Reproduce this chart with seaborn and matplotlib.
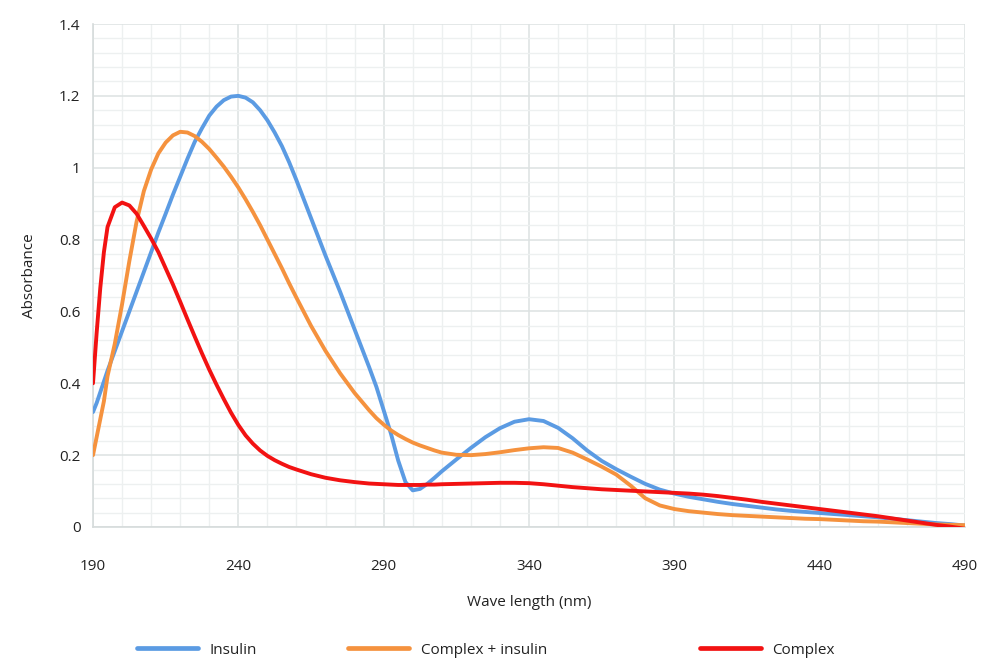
import numpy as np
import pandas as pd
import matplotlib
matplotlib.use("Agg")
import matplotlib.pyplot as plt
import seaborn as sns
from matplotlib.ticker import MultipleLocator
from matplotlib.lines import Line2D

wavelength = [190, 191.25, 192.5, 193.75, 195, 197.5, 200, 202.5, 205, 207.5,
              210, 212.5, 215, 217.5, 220, 222.5, 225, 227.5, 230, 232.5,
              235, 237.5, 240, 242.5, 245, 247.5, 250, 252.5, 255, 257.5,
              260, 265, 270, 275, 280, 285, 287.5, 290, 292.5, 295,
              297.5, 300, 302.5, 305, 307.5, 310, 315, 320, 325, 330,
              335, 340, 345, 350, 355, 360, 365, 370, 375, 380,
              385, 390, 395, 400, 405, 410, 415, 420, 425, 430,
              435, 440, 445, 450, 455, 460, 465, 470, 475, 480,
              485, 490]

insulin = [0.32, 0.345, 0.375, 0.405, 0.435, 0.49, 0.545, 0.60, 0.655, 0.71,
           0.765, 0.82, 0.872, 0.925, 0.975, 1.025, 1.072, 1.11, 1.145, 1.17,
           1.188, 1.198, 1.20, 1.195, 1.182, 1.16, 1.132, 1.098, 1.06, 1.015,
           0.965, 0.86, 0.755, 0.655, 0.55, 0.445, 0.39, 0.325, 0.26, 0.185,
           0.125, 0.102, 0.106, 0.12, 0.137, 0.155, 0.188, 0.22, 0.25, 0.275,
           0.293, 0.30, 0.295, 0.276, 0.247, 0.213, 0.184, 0.161, 0.14, 0.12,
           0.104, 0.093, 0.084, 0.077, 0.07, 0.064, 0.059, 0.054, 0.049, 0.045,
           0.042, 0.039, 0.036, 0.033, 0.030, 0.027, 0.023, 0.019, 0.015, 0.011,
           0.008, 0.004]

complex_insulin = [0.20, 0.25, 0.30, 0.35, 0.42, 0.51, 0.62, 0.74, 0.85, 0.935,
                   0.995, 1.04, 1.07, 1.09, 1.10, 1.098, 1.088, 1.072, 1.052, 1.028,
                   1.003, 0.975, 0.945, 0.912, 0.877, 0.84, 0.80, 0.76, 0.72, 0.678,
                   0.638, 0.56, 0.49, 0.428, 0.373, 0.325, 0.303, 0.285, 0.269, 0.256,
                   0.245, 0.235, 0.227, 0.22, 0.213, 0.207, 0.201, 0.20, 0.203, 0.208,
                   0.214, 0.219, 0.222, 0.22, 0.207, 0.188, 0.168, 0.146, 0.115, 0.08,
                   0.06, 0.05, 0.044, 0.04, 0.036, 0.033, 0.031, 0.029, 0.027, 0.025,
                   0.023, 0.022, 0.020, 0.018, 0.016, 0.015, 0.013, 0.011, 0.009, 0.007,
                   0.006, 0.005]

complex_only = [0.40, 0.54, 0.665, 0.765, 0.835, 0.89, 0.903, 0.895, 0.872, 0.838,
                0.803, 0.765, 0.72, 0.675, 0.627, 0.578, 0.53, 0.483, 0.438, 0.396,
                0.356, 0.318, 0.284, 0.255, 0.232, 0.213, 0.198, 0.186, 0.176, 0.167,
                0.16, 0.147, 0.137, 0.13, 0.125, 0.121, 0.12, 0.119, 0.118, 0.117,
                0.117, 0.117, 0.117, 0.118, 0.118, 0.119, 0.12, 0.121, 0.122, 0.123,
                0.123, 0.122, 0.119, 0.115, 0.111, 0.108, 0.105, 0.103, 0.101, 0.099,
                0.097, 0.095, 0.093, 0.09, 0.086, 0.081, 0.076, 0.07, 0.065, 0.06,
                0.055, 0.05, 0.045, 0.04, 0.035, 0.03, 0.024, 0.018, 0.012, 0.006,
                0.001, -0.005]

series_names = ["Insulin", "Complex + insulin", "Complex"]
colors = ["#5b9be3", "#f5923e", "#f21212"]
x_ticks = [190, 240, 290, 340, 390, 440, 490]
y_ticks = [0, 0.2, 0.4, 0.6, 0.8, 1.0, 1.2, 1.4]
y_tick_labels = ["0", "0.2", "0.4", "0.6", "0.8", "1", "1.2", "1.4"]

df = pd.concat([
    pd.DataFrame({"Wave length (nm)": wavelength, "Absorbance": vals, "Series": name})
    for name, vals in zip(series_names, [insulin, complex_insulin, complex_only])
], ignore_index=True)

sns.set_theme(style="white")
plt.rcParams["font.family"] = ["Open Sans", "DejaVu Sans"]

W, H = 982, 662
fig = plt.figure(figsize=(W / 100, H / 100), dpi=100)
ax = fig.add_axes([93 / W, 1 - 527 / H, (965 - 93) / W, (527 - 24) / H])

sns.lineplot(data=df, x="Wave length (nm)", y="Absorbance", hue="Series",
             hue_order=series_names, palette=colors, linewidth=2.8, sort=False,
             ax=ax, legend=False, zorder=3)
for ln in ax.lines:
    ln.set_solid_joinstyle("round")
    ln.set_solid_capstyle("round")

ax.set_xlim(190, 490)
ax.set_ylim(0, 1.4)
ax.set_xticks(x_ticks)
ax.set_yticks(y_ticks)
ax.set_yticklabels(y_tick_labels)
ax.xaxis.set_minor_locator(MultipleLocator(10))
ax.yaxis.set_minor_locator(MultipleLocator(0.04))
ax.grid(which="major", color="#dde2e2", linewidth=1.1, zorder=0)
ax.grid(which="minor", color="#edf0f0", linewidth=1.0, zorder=0)
ax.set_axisbelow(True)
for s in ["top", "right"]:
    ax.spines[s].set_visible(False)
for s in ["left", "bottom"]:
    ax.spines[s].set_color("#d6dbdb")
    ax.spines[s].set_linewidth(1.2)
ax.tick_params(axis="x", which="both", length=0, pad=23, labelsize=11, colors="#222222")
ax.tick_params(axis="y", which="both", length=0, pad=9, labelsize=11, colors="#222222")

ax.set_xlabel("Wave length (nm)", fontsize=11, color="#222222", labelpad=15)
ax.set_ylabel("Absorbance", fontsize=11, color="#222222", labelpad=16)

legend_x = [137, 348, 700]
for name, c, lx in zip(series_names, colors, legend_x):
    h = Line2D([0], [0], color=c, linewidth=3.4)
    leg = fig.legend([h], [name], loc="center left", bbox_to_anchor=(lx / W, 1 - 650 / H),
                     frameon=False, fontsize=11, handlelength=4.0, handletextpad=0.75,
                     borderpad=0, borderaxespad=0)
    for t in leg.get_texts():
        t.set_color("#222222")

fig.savefig("out.png", dpi=100, facecolor="white")
